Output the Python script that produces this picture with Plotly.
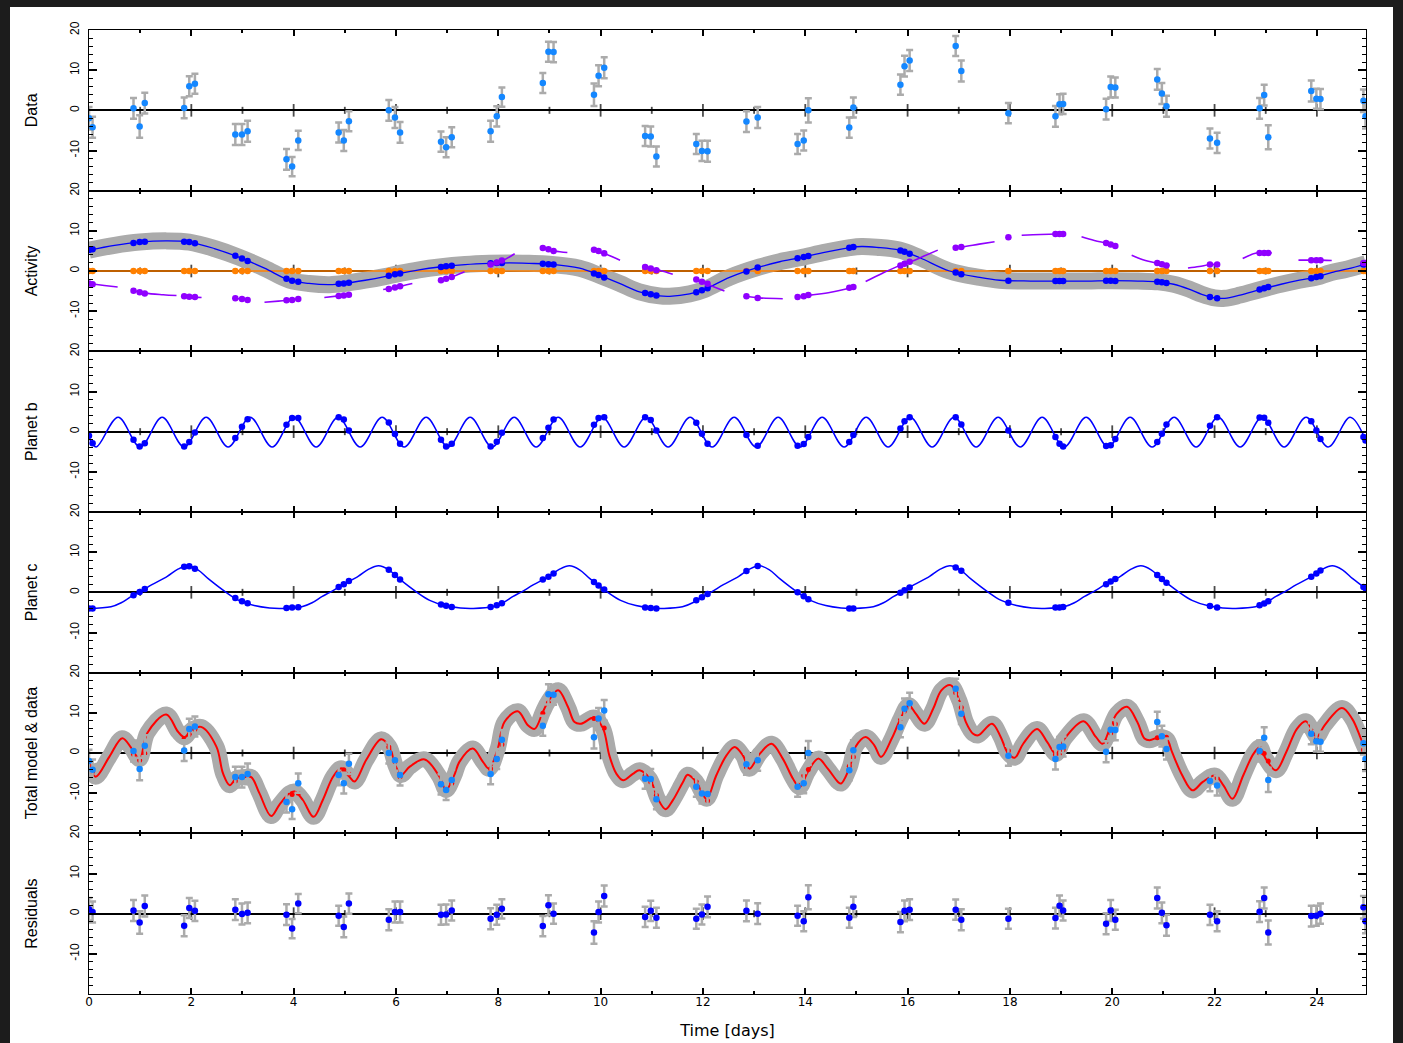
import plotly.graph_objects as go
from plotly.subplots import make_subplots

# ---------------- observations (days, m/s) ----------------
T = [0.00, 0.07,
     0.87, 0.99, 1.09,
     1.86, 1.96, 2.07,
     2.86, 2.99, 3.10,
     3.86, 3.97, 4.09,
     4.88, 4.98, 5.08,
     5.86, 5.98, 6.08,
     6.88, 6.98, 7.09,
     7.85, 7.97, 8.07,
     8.87, 8.98, 9.08,
     9.87, 9.96, 10.07,
     10.87, 10.98, 11.09,
     11.87, 11.98, 12.09,
     12.85, 13.07,
     13.85, 13.97, 14.06,
     14.86, 14.94,
     15.86, 15.94, 16.04,
     16.94, 17.05,
     17.97,
     18.89, 18.97, 19.04,
     19.88, 19.97, 20.06,
     20.88, 20.97, 21.06,
     21.91, 22.05,
     22.88, 22.97, 23.05,
     23.89, 23.99, 24.07,
     24.91, 24.95]

RV = [-2.0, -4.2,
      0.5, -4.0, 1.8,
      0.6, 6.0, 6.6,
      -6.0, -6.0, -5.2,
      -12.2, -14.0, -7.5,
      -5.5, -7.5, -2.7,
      0.0, -1.8, -5.5,
      -7.8, -9.2, -6.7,
      -5.2, -1.5, 3.3,
      6.8, 14.6, 14.5,
      3.9, 8.6, 10.6,
      -6.4, -6.5, -11.5,
      -8.4, -10.1, -10.2,
      -2.8, -1.8,
      -8.4, -7.5, 0.0,
      -4.3, 0.7,
      6.4, 11.0, 12.4,
      16.0, 9.8,
      -0.7,
      -1.5, 1.5, 1.6,
      0.3, 5.8, 5.7,
      7.7, 4.2, 1.0,
      -7.0, -8.1,
      0.5, 3.8, -6.7,
      4.8, 2.9, 2.8,
      2.4, -1.5]

RV_ERR = [2.8, 2.6,
          2.6, 2.8, 2.6,
          2.6, 2.5, 2.5,
          2.6, 2.6, 2.6,
          2.6, 2.4, 2.4,
          2.5, 2.6, 2.5,
          2.6, 2.6, 2.6,
          2.5, 2.5, 2.5,
          2.6, 2.5, 2.4,
          2.5, 2.5, 2.5,
          2.8, 2.6, 2.6,
          2.5, 2.5, 2.5,
          2.5, 2.5, 2.6,
          2.6, 2.6,
          2.5, 2.5, 3.0,
          2.5, 2.5,
          2.5, 2.6, 2.6,
          2.5, 2.6,
          2.5,
          2.6, 2.5, 2.5,
          2.6, 2.6, 2.5,
          2.6, 2.6, 2.6,
          2.5, 2.5,
          2.6, 2.6, 3.0,
          2.6, 2.5, 2.5,
          2.8, 3.0]

RESID = [1.1, 0.4,
         0.8, -2.2, 1.9,
         -3.0, 1.4, 0.7,
         1.0, -0.1, 0.2,
         -0.25, -3.7, 2.5,
         -0.5, -3.3, 2.5,
         -1.5, 0.4, 0.4,
         -0.25, -0.2, 0.8,
         -1.25, -0.25, 1.2,
         -3.1, 2.1, 0.0,
         -4.7, 0.4, 4.4,
         -0.8, 0.7, -1.0,
         -1.25, -0.2, 1.7,
         0.7, 0.0,
         -0.5, -1.9, 4.1,
         -1.0, 1.7,
         -2.1, 0.7, 1.0,
         1.0, -1.5,
         -1.25,
         -1.1, 2.0, 0.8,
         -2.5, 0.8, -1.5,
         3.9, 0.2, -2.9,
         -0.3, -1.9,
         0.5, 3.9, -4.7,
         -0.6, -0.5, 0.0,
         1.6, -1.9]

# ---------------- activity model ----------------
ACT_T = [0.0, 0.5, 0.99, 1.52, 1.96, 2.45, 2.94, 3.43, 3.92, 4.3, 4.70, 4.99, 5.4, 5.78,
         6.07, 6.45, 6.85, 7.35, 7.83, 8.22, 8.6, 9.0, 9.59, 9.98, 10.37, 10.76, 11.15,
         11.35, 11.74, 12.03, 12.52, 13.11, 13.5, 13.9, 14.4, 14.87, 15.1, 15.4, 15.84,
         16.24, 16.82, 17.41, 17.8, 18.4, 19.0, 19.5, 20.0, 20.5, 20.9, 21.2, 21.5, 21.75,
         22.0, 22.2, 22.5, 22.9, 23.3, 23.66, 24.0, 24.25, 24.6, 24.96]
ACT_V = [5.2, 6.4, 7.2, 7.5, 7.2, 5.6, 3.4, 0.7, -2.3, -3.1, -3.4, -3.1, -2.3, -1.4,
         -0.6, 0.3, 1.0, 1.6, 1.9, 2.0, 1.9, 1.7, 0.7, -1.1, -3.1, -5.2, -6.2,
         -6.3, -5.7, -4.6, -1.6, 1.0, 2.3, 3.3, 4.7, 5.8, 6.1, 5.9, 5.2,
         3.3, 0.0, -1.6, -2.3, -2.5, -2.5, -2.5, -2.4, -2.5, -2.7, -3.3, -4.5, -5.8,
         -6.7, -6.8, -6.0, -4.6, -3.3, -2.3, -1.5, -0.5, 0.5, 1.8]

ACT_AT_OBS = [5.2, 5.4,
              7.0, 7.2, 7.3,
              7.3, 7.2, 6.9,
              3.8, 3.1, 2.5,
              -1.9, -2.4, -2.7,
              -3.2, -3.1, -2.9,
              -1.2, -0.8, -0.6,
              1.0, 1.2, 1.3,
              1.9, 2.0, 2.0,
              1.8, 1.7, 1.6,
              -0.6, -1.0, -1.6,
              -5.5, -5.8, -6.1,
              -5.3, -4.8, -4.3,
              -0.1, 0.85,
              3.2, 3.5, 3.75,
              5.8, 5.95,
              5.1, 4.8, 4.3,
              -0.4, -0.8,
              -2.4,
              -2.5, -2.5, -2.5,
              -2.4, -2.4, -2.5,
              -2.7, -2.8, -3.0,
              -6.5, -6.8,
              -4.6, -4.3, -4.0,
              -1.8, -1.5, -1.3,
              1.6, 1.8]

# constant (offset) term of the activity model
OFFSET_T = [0.0, 24.96]
OFFSET_V = [0.0, 0.0]
OFFSET_AT_OBS = [0.0] * len(T)

# second activity term, drawn piecewise around each night
PURPLE_T = [0.0, 0.3, 0.56, None,
            0.85, 1.1, 1.45, 1.71, None,
            1.86, 2.07, 2.2, None,
            2.8, 3.0, 3.14, None,
            3.43, 3.7, 3.86, 4.09, None,
            4.6, 4.88, 5.08, None,
            5.75, 5.98, 6.32, None,
            6.85, 7.05, 7.34, None,
            7.8, 8.05, 8.32, None,
            8.85, 9.1, 9.35, None,
            9.82, 10.08, 10.38, None,
            10.85, 11.15, 11.41, None,
            11.83, 12.05, 12.42, None,
            12.82, 13.11, 13.56, None,
            13.83, 14.1, 14.5, 14.9, None,
            15.18, 15.5, 15.85, 16.06, 16.3, 16.59, None,
            16.9, 17.07, 17.4, 17.7, None,
            17.93, 17.99, None,
            18.23, 18.6, 18.9, 19.09, None,
            19.4, 19.65, 19.9, 20.11, None,
            20.38, 20.6, 20.85, 21.12, None,
            21.48, 21.7, 21.91, 22.1, None,
            22.55, 22.82, 23.12, None,
            23.64, 23.9, 24.1, 24.29, None,
            24.9, 24.96]
PURPLE_V = [-3.1, -3.6, -4.0, None,
            -4.8, -5.5, -5.9, -6.1, None,
            -6.3, -6.5, -6.6, None,
            -6.8, -7.0, -7.2, None,
            -7.8, -7.5, -7.3, -7.0, None,
            -6.6, -6.2, -5.9, None,
            -4.6, -4.1, -3.1, None,
            -2.5, -1.7, -0.2, None,
            1.7, 2.4, 4.3, None,
            5.7, 5.0, 4.6, None,
            5.3, 4.3, 2.7, None,
            1.0, 0.2, -0.8, None,
            -2.1, -3.1, -5.0, None,
            -6.3, -6.7, -6.9, None,
            -6.5, -6.0, -5.3, -4.1, None,
            -2.6, -0.6, 1.4, 2.3, 3.6, 5.2, None,
            5.8, 6.0, 6.7, 7.3, None,
            8.2, 8.4, None,
            8.9, 9.1, 9.2, 9.2, None,
            8.5, 7.6, 6.9, 6.2, None,
            3.9, 2.8, 2.0, 1.4, None,
            0.75, 1.1, 1.6, 1.6, None,
            3.1, 4.5, 4.5, None,
            2.7, 2.7, 2.7, 2.6, None,
            2.0, 2.0]

PURPLE_AT_OBS = [-3.1, -3.3,
                 -4.9, -5.3, -5.6,
                 -6.3, -6.4, -6.5,
                 -6.8, -7.0, -7.2,
                 -7.3, -7.2, -7.0,
                 -6.2, -6.1, -5.9,
                 -4.5, -4.1, -3.8,
                 -2.3, -1.9, -1.5,
                 1.6, 2.1, 2.6,
                 5.7, 5.4, 5.0,
                 5.3, 5.0, 4.4,
                 1.0, 0.6, 0.2,
                 -2.1, -2.7, -3.2,
                 -6.3, -6.7,
                 -6.5, -6.3, -6.0,
                 -4.2, -4.0,
                 1.4, 1.8, 2.3,
                 5.8, 6.0,
                 8.4,
                 9.2, 9.2, 9.2,
                 7.0, 6.6, 6.2,
                 2.0, 1.7, 1.4,
                 1.6, 1.6,
                 4.5, 4.5, 4.5,
                 2.7, 2.7, 2.7,
                 2.0, 2.0]

# ---------------- planet b (extrema of the orbit curve) ----------------
PLB_T = [0.0, 0.14, 0.57, 1.00, 1.43, 1.86, 2.29, 2.72, 3.15, 3.58, 4.01, 4.44, 4.87,
         5.30, 5.73, 6.16, 6.59, 7.02, 7.45, 7.88, 8.31, 8.74, 9.17, 9.60, 10.03, 10.46,
         10.89, 11.32, 11.75, 12.18, 12.61, 13.04, 13.47, 13.90, 14.33, 14.76, 15.19,
         15.62, 16.05, 16.48, 16.91, 17.34, 17.77, 18.20, 18.63, 19.06, 19.49, 19.92,
         20.35, 20.78, 21.21, 21.64, 22.07, 22.50, 22.93, 23.36, 23.79, 24.22, 24.65, 24.96]
PLB_V = [-1.4, -3.8, 3.6, -3.8, 3.6, -3.8, 3.6, -3.8, 3.6, -3.8, 3.6, -3.8, 3.6,
         -3.8, 3.6, -3.8, 3.6, -3.8, 3.6, -3.8, 3.6, -3.8, 3.6, -3.8, 3.6, -3.8,
         3.6, -3.8, 3.6, -3.8, 3.6, -3.8, 3.6, -3.8, 3.6, -3.8, 3.6,
         -3.8, 3.6, -3.8, 3.6, -3.8, 3.6, -3.8, 3.6, -3.8, 3.6, -3.8,
         3.6, -3.8, 3.6, -3.8, 3.6, -3.8, 3.6, -3.8, 3.6, -3.8, 3.6, -2.3]

PLB_AT_OBS = [-1.0, -2.9,
              -2.0, -3.7, -2.9,
              -3.7, -2.6, -0.2,
              -1.6, 1.2, 3.1,
              1.7, 3.4, 3.4,
              3.6, 3.0, 0.3,
              2.3, -0.6, -3.0,
              -2.0, -3.7, -3.0,
              -3.7, -2.5, -0.3,
              -1.6, 1.0, 3.0,
              1.7, 3.4, 3.6,
              3.6, 2.9, 0.3,
              2.2, -0.5, -3.0,
              -0.8, -3.5,
              -3.5, -3.1, -1.3,
              -2.6, -0.8,
              0.8, 2.6, 3.6,
              3.6, 1.8,
              0.3,
              -1.3, -3.0, -3.7,
              -3.6, -3.4, -1.8,
              -2.6, -0.5, 1.8,
              1.5, 3.6,
              3.5, 3.45, 2.2,
              2.6, 0.3, -1.8,
              -1.3, -2.2]

# ---------------- planet c ----------------
PLC_T = [0.0, 0.43, 0.63, 0.83, 0.98, 1.23, 1.53, 1.73, 1.93, 2.13, 2.33, 2.68, 2.93, 3.23, 3.53, 3.78,
         4.16, 4.36, 4.56, 4.71, 4.96, 5.26, 5.46, 5.66, 5.86, 6.06, 6.41, 6.66, 6.96, 7.26, 7.51,
         7.89, 8.09, 8.29, 8.44, 8.69, 8.99, 9.19, 9.39, 9.59, 9.79, 10.14, 10.39, 10.69, 10.99, 11.24,
         11.6, 11.8, 12.0, 12.15, 12.4, 12.7, 12.9, 13.1, 13.3, 13.5, 13.85, 14.1, 14.4, 14.7, 14.95,
         15.33, 15.53, 15.73, 15.88, 16.13, 16.43, 16.63, 16.83, 17.03, 17.23, 17.58, 17.83, 18.13, 18.43, 18.68,
         19.06, 19.26, 19.46, 19.61, 19.86, 20.16, 20.36, 20.56, 20.76, 20.96, 21.31, 21.56, 21.86, 22.16, 22.41,
         22.8, 23.0, 23.2, 23.35, 23.6, 23.9, 24.1, 24.3, 24.5, 24.7, 24.96]
PLC_V = [-4.0, -3.6, -2.6, -1.0, 0.0, 1.9, 4.0, 5.7, 6.6, 5.6, 3.4, 0.0, -2.0, -3.3, -3.9, -4.0,
         -3.6, -2.6, -1.0, 0.0, 1.9, 4.0, 5.7, 6.6, 5.6, 3.4, 0.0, -2.0, -3.3, -3.9, -4.0,
         -3.6, -2.6, -1.0, 0.0, 1.9, 4.0, 5.7, 6.6, 5.6, 3.4, 0.0, -2.0, -3.3, -3.9, -4.0,
         -3.6, -2.6, -1.0, 0.0, 1.9, 4.0, 5.7, 6.6, 5.6, 3.4, 0.0, -2.0, -3.3, -3.9, -4.0,
         -3.6, -2.6, -1.0, 0.0, 1.9, 4.0, 5.7, 6.6, 5.6, 3.4, 0.0, -2.0, -3.3, -3.9, -4.0,
         -3.6, -2.6, -1.0, 0.0, 1.9, 4.0, 5.7, 6.6, 5.6, 3.4, 0.0, -2.0, -3.3, -3.9, -4.0,
         -3.6, -2.6, -1.0, 0.0, 1.9, 4.0, 5.7, 6.6, 5.6, 3.4, 0.9]

PLC_AT_OBS = [-4.0, -4.0,
              -0.7, 0.1, 0.8,
              6.4, 6.5, 5.9,
              -1.4, -2.2, -2.7,
              -3.9, -3.8, -3.7,
              1.3, 2.0, 2.8,
              5.6, 4.3, 3.2,
              -3.0, -3.35, -3.65,
              -3.65, -3.2, -2.7,
              3.2, 3.9, 4.7,
              2.6, 1.7, 0.7,
              -3.8, -3.9, -4.0,
              -2.0, -1.2, -0.4,
              5.3, 6.55,
              0.0, -1.0, -1.7,
              -4.0, -4.0,
              -0.1, 0.5, 1.2,
              6.2, 5.4,
              -2.6,
              -3.8, -3.75, -3.65,
              2.0, 2.7, 3.3,
              4.3, 3.3, 2.4,
              -3.4, -3.75,
              -3.2, -2.75, -2.2,
              3.9, 4.7, 5.45,
              1.35, 1.0]

# ---------------- total model ----------------
TOT_T = [0.00, 0.13, 0.40, 0.65, 0.83, 0.99, 1.14, 1.51, 1.74, 1.87, 2.00, 2.19, 2.49, 2.62,
         2.75, 2.88, 3.04, 3.17, 3.33, 3.56, 3.72, 3.92, 4.02, 4.18, 4.39, 4.57, 4.77, 4.93,
         5.09, 5.19, 5.42, 5.71, 5.87, 6.00, 6.10, 6.27, 6.56, 6.85, 6.98, 7.14, 7.24, 7.50,
         7.70, 7.82, 7.99, 8.12, 8.38, 8.58, 8.71, 8.87, 8.97, 9.17, 9.36, 9.49, 9.62, 9.82,
         9.88, 10.05, 10.17, 10.31, 10.44, 10.63, 10.76, 10.96, 11.12, 11.27, 11.41, 11.61,
         11.70, 11.87, 12.07, 12.26, 12.46, 12.62, 12.78, 12.91, 13.11, 13.34, 13.56, 13.76,
         13.89, 14.05, 14.25, 14.44, 14.64, 14.70, 14.87, 14.98, 15.18, 15.35, 15.48, 15.69,
         15.86, 16.02, 16.16, 16.33, 16.50, 16.66, 16.84, 17.01, 17.14, 17.28, 17.38, 17.65,
         17.82, 17.95, 18.09, 18.26, 18.53, 18.73, 18.90, 19.07, 19.44, 19.68, 19.81, 19.95,
         20.09, 20.29, 20.49, 20.63, 20.73, 20.93, 21.07, 21.17, 21.37, 21.57, 21.77, 22.01,
         22.18, 22.35, 22.56, 22.76, 22.89, 22.99, 23.20, 23.40, 23.61, 23.78, 23.91, 24.00,
         24.15, 24.49, 24.69, 24.86, 24.96]
TOT_V = [-3.0, -5.9, -0.9, 3.7, 1.2, -1.5, 5.0, 9.6, 5.3, 3.9, 5.7, 6.5, 1.6, -5.1,
         -8.0, -6.3, -6.0, -6.0, -10.0, -15.7, -12.9, -10.0, -9.6, -11.7, -15.9, -11.7, -5.9, -3.8,
         -5.9, -7.1, -1.7, 3.4, 1.6, -3.4, -5.5, -3.4, -1.6, -5.9, -9.2, -5.5, -2.2, 1.1,
         -2.2, -3.9, 1.1, 7.7, 10.4, 6.9, 6.0, 10.2, 12.7, 15.6, 11.5, 7.7, 7.3, 8.7,
         8.8, 6.0, -0.6, -5.2, -6.8, -5.2, -4.3, -6.4, -11.4, -14.0, -11.8, -7.2,
         -5.4, -7.2, -11.4, -5.6, -0.6, 1.5, -0.6, -3.9, -0.2, 2.3, -1.4, -6.4,
         -8.5, -4.7, -1.4, -3.9, -7.2, -7.6, -3.5, 1.5, 4.0, 1.9, -1.0, 3.6,
         8.5, 11.9, 9.8, 7.3, 11.0, 15.6, 16.9, 13.1, 7.7, 4.8, 4.4, 7.3,
         4.0, 0.2, -1.2, 2.3, 6.0, 2.7, -0.2, 3.6, 7.9, 4.0, 2.3, 6.0,
         9.8, 11.5, 7.7, 3.6, 3.2, 4.0, 3.4, 0.2, -5.6, -9.3, -7.2, -5.6,
         -8.2, -11.4, -5.6, -0.2, 1.5, -1.2, -4.3, 0.2, 6.0, 7.9, 5.7, 4.0,
         6.9, 11.2, 8.5, 3.6, 0.7]

TOT_AT_OBS = [-3.1, -4.6,
              -0.3, -1.8, -0.1,
              3.6, 4.6, 5.9,
              -7.0, -5.9, -5.4,
              -11.95, -10.3, -10.0,
              -5.0, -4.2, -5.2,
              1.5, -2.2, -5.9,
              -7.55, -9.0, -7.5,
              -3.95, -1.25, 2.1,
              9.9, 12.5, 14.5,
              8.6, 8.2, 6.2,
              -5.6, -7.2, -10.5,
              -7.15, -9.9, -11.9,
              -3.5, -1.8,
              -7.9, -5.6, -4.1,
              -3.3, -1.0,
              8.5, 10.3, 11.4,
              15.0, 11.3,
              0.55,
              -0.4, -0.5, 0.8,
              2.8, 5.0, 7.2,
              3.8, 4.0, 3.9,
              -6.7, -6.2,
              0.0, -0.1, -2.0,
              5.4, 3.4, 2.8,
              0.8, 0.4]

# ---------------- axes ----------------
X_RANGE = [0.0, 24.96]
Y_RANGE = [-20, 20]
Y_TICKVALS = [-20, -10, 0, 10, 20]
Y_TICKTEXT = ["", "-10", "0", "10", "20"]
X_TICKVALS = [0, 2, 4, 6, 8, 10, 12, 14, 16, 18, 20, 22, 24]
ZERO_TICK_DAYS = list(range(1, 25))
PANEL_TITLES = ["Data", "Activity", "Planet b", "Planet c", "Total model & data", "Residuals"]

GREY = "#ababab"
LIGHT_BLUE = "#1487ff"
BLUE = "#0000ff"
ORANGE = "#ff8000"
PURPLE = "#9000ff"
RED = "#ff0000"
NARROW = "Liberation Sans Narrow, Liberation Sans, Arial, sans-serif"

fig = make_subplots(rows=6, cols=1, shared_xaxes=True, vertical_spacing=0)


def add(tr, row):
    fig.add_trace(tr, row=row, col=1)


def zero_ticks(row):
    add(go.Scatter(x=ZERO_TICK_DAYS, y=[0] * len(ZERO_TICK_DAYS), mode="markers",
                   marker=dict(symbol="line-ns", color="black",
                               size=[9 if d % 2 == 0 else 5 for d in ZERO_TICK_DAYS],
                               line=dict(width=1.8, color="black")),
                   hoverinfo="skip"), row)


def curve(tx, ty, color, width, row, dash=None):
    add(go.Scatter(x=tx, y=ty, mode="lines", connectgaps=False,
                   line=dict(color=color, width=width, shape="spline", dash=dash),
                   hoverinfo="skip"), row)


def dots(ty, color, size, row, err=None):
    add(go.Scatter(x=T, y=ty, mode="markers",
                   marker=dict(color=color, size=size, line=dict(width=0)),
                   error_y=None if err is None else dict(type="data", array=err, color=GREY,
                                                         thickness=2.5, width=3.5),
                   hoverinfo="skip"), row)


# 1: raw radial velocities
zero_ticks(1)
dots(RV, LIGHT_BLUE, 6.5, 1, RV_ERR)

# 2: activity components
zero_ticks(2)
curve(ACT_T, ACT_V, GREY, 17, 2)
curve(OFFSET_T, OFFSET_V, ORANGE, 1.5, 2)
dots(OFFSET_AT_OBS, ORANGE, 6.5, 2)
curve(ACT_T, ACT_V, BLUE, 1.3, 2)
dots(ACT_AT_OBS, BLUE, 6.5, 2)
curve(PURPLE_T, PURPLE_V, PURPLE, 1.6, 2)
dots(PURPLE_AT_OBS, PURPLE, 6.5, 2)

# 3: planet b
zero_ticks(3)
curve(PLB_T, PLB_V, BLUE, 1.5, 3)
dots(PLB_AT_OBS, BLUE, 6.5, 3)

# 4: planet c
zero_ticks(4)
curve(PLC_T, PLC_V, BLUE, 1.5, 4)
dots(PLC_AT_OBS, BLUE, 6.5, 4)

# 5: full model with data
zero_ticks(5)
curve(TOT_T, TOT_V, GREY, 16, 5)
curve(TOT_T, TOT_V, RED, 2, 5)
dots(TOT_AT_OBS, RED, 5, 5)
dots(RV, LIGHT_BLUE, 6.5, 5, RV_ERR)

# 6: residuals
zero_ticks(6)
dots(RESID, BLUE, 6.5, 6, RV_ERR)

for i in range(1, 7):
    fig.update_xaxes(row=i, col=1, range=X_RANGE, showgrid=False, zeroline=False,
                     showline=True, linecolor="black", linewidth=1, mirror="ticks",
                     ticks="inside", ticklen=6, tickwidth=1.8, tickcolor="black",
                     tickvals=X_TICKVALS, automargin=False, ticklabelstandoff=-3,
                     minor=dict(ticks="inside", ticklen=3, tickwidth=1.5, tickcolor="black", dtick=1),
                     tickfont=dict(family="DejaVu Sans", size=12, color="black"))
    fig.update_yaxes(row=i, col=1, range=Y_RANGE, showgrid=False,
                     zeroline=True, zerolinecolor="black", zerolinewidth=1.5,
                     showline=True, linecolor="black", linewidth=1.3, mirror="ticks",
                     ticks="inside", ticklen=8, tickwidth=1.5, tickcolor="black",
                     tickvals=Y_TICKVALS, ticktext=Y_TICKTEXT, tickangle=-90,
                     ticklabelstandoff=4,
                     minor=dict(ticks="inside", ticklen=4, tickwidth=1.2, tickcolor="black", dtick=2),
                     tickfont=dict(family=NARROW, size=12, color="black"),
                     automargin=False,
                     title=dict(text=PANEL_TITLES[i - 1], standoff=26,
                                font=dict(family=NARROW, size=16, color="black")))

fig.update_xaxes(row=6, col=1, showticklabels=True,
                 title=dict(text="Time [days]", standoff=16,
                            font=dict(family="DejaVu Sans", size=16, color="black")))

W, H = 1403, 1043
ML, MR, MT, MB = 89, 37, 30, 49
pw, ph = W - ML - MR, H - MT - MB

fig.update_layout(
    width=W, height=H, showlegend=False,
    margin=dict(l=ML, r=MR, t=MT, b=MB, pad=0),
    paper_bgcolor="#1c1c1c", plot_bgcolor="white",
    shapes=[dict(type="rect", xref="paper", yref="paper", layer="below",
                 x0=(10 - ML) / pw, x1=(1393 - ML) / pw,
                 y0=-(H - MT - ph + 5) / ph, y1=(H - MB - 7) / ph,
                 fillcolor="white", line=dict(width=0))],
)

fig.write_html("out.html")
